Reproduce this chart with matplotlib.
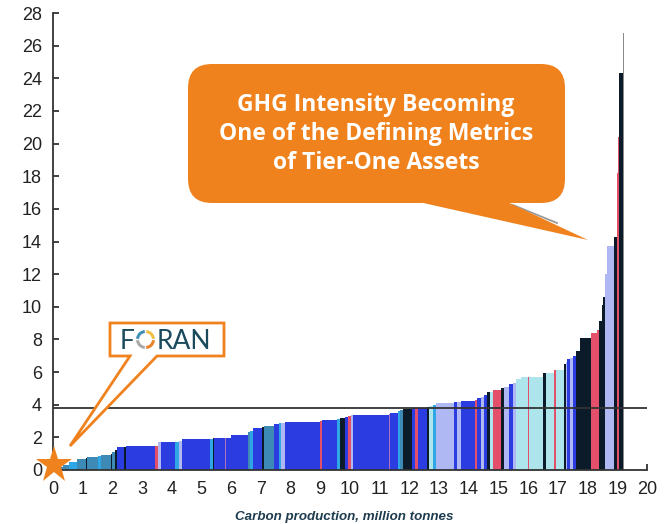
import numpy as np
import matplotlib
matplotlib.use("Agg")
import matplotlib.pyplot as plt
from matplotlib.patches import FancyBboxPatch, Polygon, Wedge
from matplotlib.lines import Line2D
from matplotlib.transforms import IdentityTransform

# ---------------- data ----------------
# carbon production (bar widths, million tonnes), GHG intensity (bar heights), colour group
production = [0.35, 0.20, 0.25, 0.30, 0.05, 0.35, 0.10, 0.35, 0.05, 0.10,
              0.05, 0.25, 0.05, 1.00, 0.07, 0.10, 0.48, 0.15, 0.10, 0.95,
              0.08, 0.04, 0.38, 0.04, 0.16, 0.55, 0.07, 0.10, 0.33, 0.07,
              0.33, 0.15, 0.08, 0.14, 1.18, 0.05, 0.50, 0.10, 0.17, 0.10,
              0.10, 0.08, 1.20, 0.05, 0.25, 0.10, 0.10, 0.30, 0.10, 0.08,
              0.32, 0.06, 0.14, 0.08, 0.62, 0.10, 0.15, 0.45, 0.08, 0.12,
              0.10, 0.10, 0.10, 0.10, 0.28, 0.12, 0.15, 0.15, 0.10, 0.15,
              0.23, 0.06, 0.46, 0.10, 0.28, 0.06, 0.26, 0.06, 0.06, 0.10,
              0.08, 0.12, 0.13, 0.35, 0.20, 0.10, 0.08, 0.05, 0.05, 0.06,
              0.24, 0.10, 0.04, 0.03, 0.15, 0.03]
intensity = [0.20, 0.32, 0.50, 0.65, 0.72, 0.78, 0.85, 0.92, 0.98, 1.12,
             1.22, 1.38, 1.38, 1.45, 1.50, 1.70, 1.72, 1.74, 1.76, 1.90,
             1.92, 1.93, 1.96, 1.96, 1.96, 2.15, 2.30, 2.40, 2.60, 2.65,
             2.70, 2.80, 2.85, 2.88, 2.95, 3.00, 3.05, 3.10, 3.20, 3.22,
             3.30, 3.35, 3.40, 3.45, 3.50, 3.60, 3.65, 3.74, 3.78, 3.80,
             3.82, 3.85, 3.90, 4.00, 4.12, 4.15, 4.15, 4.20, 4.30, 4.40,
             4.50, 4.60, 4.75, 4.80, 4.88, 5.00, 5.10, 5.25, 5.35, 5.55,
             5.70, 5.70, 5.72, 5.95, 5.95, 6.10, 6.15, 6.50, 6.60, 6.80,
             6.85, 7.00, 7.30, 8.10, 8.40, 8.60, 9.10, 10.10, 10.60, 12.00,
             13.70, 14.30, 18.20, 20.40, 24.30, 26.80]
group = ["T", "T", "C", "T", "D", "T", "C", "T", "D", "T",
         "D", "B", "D", "B", "R", "LB", "B", "C", "LB", "B",
         "C", "D", "B", "P", "B", "B", "T", "C", "B", "D",
         "T", "B", "C", "LB", "B", "R", "B", "C", "D", "B",
         "R", "LB", "B", "P", "B", "C", "T", "D", "B", "R",
         "B", "D", "LC", "C", "LB", "B", "LB", "B", "R", "B",
         "LB", "B", "D", "LC", "R", "D", "LB", "B", "LB", "LC",
         "LC", "R", "LC", "D", "LC", "R", "LC", "D", "LB", "B",
         "LB", "B", "D", "D", "R", "R", "D", "D", "D", "LB",
         "LB", "D", "R", "R", "D", "G"]
average_intensity = 3.82
x_ticks = list(range(0, 21))
y_ticks = list(range(0, 29, 2))

palette = {"B": "#2b3de0", "LB": "#b0b8f4", "LC": "#aee4ec", "D": "#0c1b2a",
           "R": "#e4506a", "T": "#3d8ab6", "C": "#2fa6e6", "P": "#b070c0",
           "G": "#8a8a8a"}

ORANGE = "#f0821e"
W, H = 669, 524

fig = plt.figure(figsize=(W / 100, H / 100), dpi=100)
fig.patch.set_facecolor("white")
ax = fig.add_axes([53 / W, (H - 470) / H, (647 - 53) / W, (470 - 13) / H])

lefts = np.concatenate([[0], np.cumsum(production)[:-1]])
ax.bar(lefts, intensity, width=production, align="edge",
       color=[palette[g] for g in group], linewidth=0, antialiased=True, zorder=2)

ax.axhline(average_intensity, color="#333333", lw=1.3, zorder=3)

ax.set_xlim(0, 20)
ax.set_ylim(0, 28)
ax.set_xticks(x_ticks)
ax.set_yticks(y_ticks)
for s in ["top", "right"]:
    ax.spines[s].set_visible(False)
for s in ["left", "bottom"]:
    ax.spines[s].set_color("#333333")
    ax.spines[s].set_linewidth(1.3)
ax.tick_params(direction="in", length=4, width=1.3, color="#333333",
               labelsize=13, labelcolor="#222222")
ax.tick_params(axis="y", pad=8)
ax.tick_params(axis="x", pad=8)
for lab in ax.get_xticklabels() + ax.get_yticklabels():
    lab.set_fontfamily("Liberation Sans")

# star at origin
ax.plot(0.05, 0.3, marker="*", ms=28, color=ORANGE, clip_on=False, zorder=10,
        markeredgewidth=0)

ID = IdentityTransform()
def D(x, y):
    return (x, H - y)

# x label
fig.text(344, H - 517, "Carbon production, million tonnes", transform=ID,
         ha="center", va="center", fontsize=9.6, fontweight="bold", fontstyle="italic",
         color="#1e3c50", family="Liberation Sans")

# main callout
tail = Polygon([D(410, 200), D(503, 200), D(588, 240)], closed=True,
               facecolor=ORANGE, edgecolor="none", transform=ID, zorder=20)
fig.add_artist(tail)
fig.add_artist(Line2D([513, 557], [H - 205, H - 223], color="#9a9a9a", lw=1.3,
                      transform=ID, zorder=19))
box = FancyBboxPatch((188 + 22, H - 203 + 22), 565 - 188 - 44, 203 - 64 - 44,
                     boxstyle="round,pad=22,rounding_size=24",
                     facecolor=ORANGE, edgecolor="none", transform=ID, zorder=21)
fig.add_artist(box)
fig.text(376, H - 134, "GHG Intensity Becoming\nOne of the Defining Metrics\nof Tier-One Assets",
         transform=ID, ha="center", va="center", fontsize=16.5, fontweight="bold",
         color="white", family="Open Sans", linespacing=1.27, zorder=22)

# FORAN callout box
foran = Polygon([D(110, 323), D(224, 323), D(224, 356), D(157, 356), D(70, 446),
                 D(130, 356), D(110, 356)], closed=True, facecolor="white",
                edgecolor=ORANGE, lw=2, transform=ID, zorder=20, joinstyle="miter")
fig.add_artist(foran)
fig.text(120, H - 349, "F", transform=ID, ha="left", va="baseline", fontsize=19,
         color="#1b4a5c", family="Lato", zorder=22)
fig.text(157, H - 349, "RAN", transform=ID, ha="left", va="baseline", fontsize=19,
         color="#1b4a5c", family="Lato", zorder=22)
cx, cy = D(145.5, 339.5)
for a0, a1, c in [(5, 85, "#f2c040"), (-85, -5, "#e8822a"),
                  (185, 265, "#a8a8a8"), (95, 175, "#3f8fb5")]:
    fig.add_artist(Wedge((cx, cy), 9.5, a0, a1, width=3, facecolor=c,
                         edgecolor="none", transform=ID, zorder=22))

fig.savefig("out.png", dpi=100)
